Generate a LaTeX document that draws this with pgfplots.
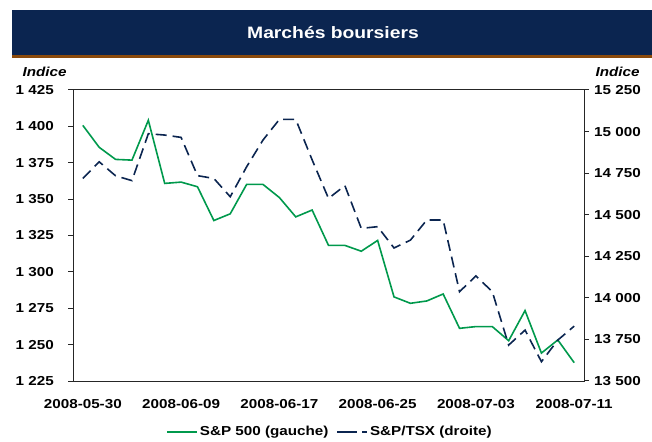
\documentclass[border=0pt]{standalone}
\usepackage{fontspec}
\setmainfont{Liberation Sans}[FakeStretch=1.17]
\usepackage{pgfplots}
\usepackage{pgfplotstable}
\pgfplotsset{compat=1.18}
\definecolor{navy}{HTML}{0B2550}
\definecolor{brownline}{HTML}{8B4A0B}
\definecolor{spgreen}{HTML}{00994C}
\pgfplotstableread{
idx sp tsx
0 1400.7 14718
1 1385.6 14818
2 1377.3 14734
3 1376.8 14705
4 1404.2 14987
5 1360.8 14979
6 1361.7 14965
7 1358.5 14735
8 1335.3 14718
9 1339.9 14608
10 1360.1 14788
11 1360.1 14949
12 1351.1 15073
13 1337.8 15073
14 1342.5 14830
15 1318.2 14598
16 1318.2 14675
17 1314.2 14418
18 1321.6 14428
19 1282.8 14300
20 1278.4 14347
21 1280.0 14468
22 1284.8 14468
23 1261.2 14037
24 1262.4 14132
25 1262.4 14037
26 1252.7 13716
27 1273.4 13806
28 1244.2 13616
29 1253.2 13746
30 1237.6 13830
}\data
\begin{document}
\begin{tikzpicture}[x=1pt,y=1pt]
\path[use as bounding box] (0,0) rectangle (652,441);
\fill[navy] (12,386) rectangle (652,431);
\fill[brownline] (12,383) rectangle (652,386);
\node[white,font=\bfseries\fontsize{16.5}{16.5}\selectfont] at (333,408) {Marchés boursiers};
\node[anchor=west,font=\bfseries\itshape\fontsize{13}{13}\selectfont] at (19,369) {Indice};
\node[anchor=east,font=\bfseries\itshape\fontsize{13}{13}\selectfont] at (643,369) {Indice};
\pgfplotsset{
  every axis/.append style={
    scale only axis, width=511pt, height=291pt,
    at={(73pt,60pt)}, anchor=south west,
    xmin=-0.6, xmax=30.6,
    tick align=outside, major tick length=5pt,
    axis line style={line width=1pt, black!85},
    every tick/.style={line width=1pt, black!85},
    tick label style={font=\bfseries\fontsize{13}{13}\selectfont},
    scaled y ticks=false,
  }
}
\begin{axis}[
  ymin=1225, ymax=1425,
  ytick={1225,1250,...,1425},
  yticklabels={1 225,1 250,1 275,1 300,1 325,1 350,1 375,1 400,1 425},
  ytick pos=left,
  xtick={0,6,...,30},
  xticklabels={2008-05-30,2008-06-09,2008-06-17,2008-06-25,2008-07-03,2008-07-11},
  xtick style={draw=none},
  xticklabel style={yshift=-10pt},
  yticklabel style={inner sep=0pt, xshift=-14pt},
  legend columns=2,
  legend style={at={(0.503,-0.175)}, anchor=center, draw=none, fill=none,
    font=\bfseries\fontsize{13}{13}\selectfont,
    /tikz/every even column/.append style={column sep=6pt},
    /tikz/every odd column/.append style={column sep=0pt}},
  legend image code/.code={\draw[#1] (0pt,0pt) -- (30pt,0pt);},
]
\addplot[spgreen, line width=1.6pt] table[x=idx, y=sp] {\data};
\addlegendentry{S\&P 500 (gauche)}
\addlegendimage{navy, line width=1.6pt, dash pattern=on 20pt off 5pt}
\addlegendentry{S\&P/TSX (droite)}
\end{axis}
\begin{axis}[
  axis x line=none,
  axis y line*=right,
  ymin=13500, ymax=15250,
  ytick={13500,13750,...,15250},
  yticklabels={13 500,13 750,14 000,14 250,14 500,14 750,15 000,15 250},
  yticklabel style={inner sep=0pt, xshift=5pt},
]
\addplot[navy, line width=1.6pt, dash pattern=on 11pt off 6pt] table[x=idx, y=tsx] {\data};
\end{axis}
\end{tikzpicture}
\end{document}
